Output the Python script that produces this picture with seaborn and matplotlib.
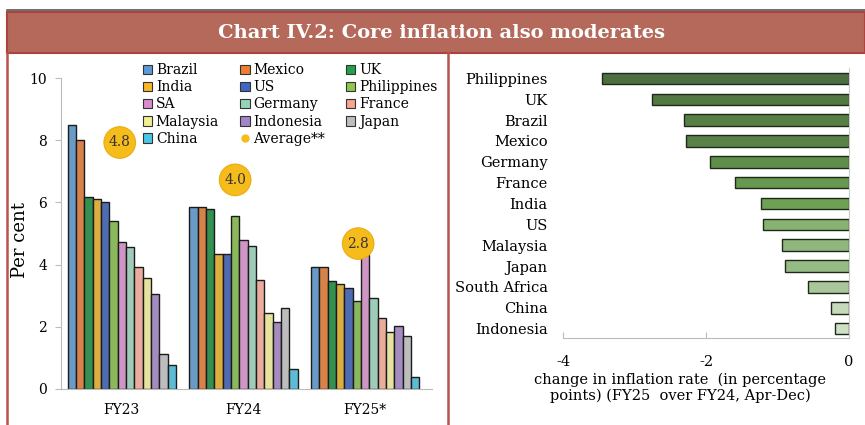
import numpy as np
import pandas as pd
import matplotlib
matplotlib.use("Agg")
import matplotlib.pyplot as plt
import seaborn as sns
from matplotlib.patches import Patch, Rectangle
from matplotlib.lines import Line2D

# ---- data: left panel (core inflation, per cent) ----
countries = ["Brazil", "Mexico", "UK", "India", "US", "Philippines", "SA",
             "Germany", "France", "Malaysia", "Indonesia", "Japan", "China"]
years = ["FY23", "FY24", "FY25*"]
fy23 = [8.5, 8.0, 6.17, 6.1, 6.0, 5.4, 4.73, 4.56, 3.93, 3.58, 3.05, 1.12, 0.77]
fy24 = [5.85, 5.85, 5.8, 4.35, 4.35, 5.56, 4.78, 4.6, 3.52, 2.45, 2.14, 2.62, 0.64]
fy25 = [3.93, 3.93, 3.46, 3.39, 3.26, 2.82, 4.3, 2.91, 2.27, 1.84, 2.01, 1.72, 0.4]
average = [4.8, 4.0, 2.8]

# ---- data: right panel (change FY25 over FY24, pp) ----
change_labels = ["Philippines", "UK", "Brazil", "Mexico", "Germany", "France", "India",
                 "US", "Malaysia", "Japan", "South Africa", "China", "Indonesia"]
change_values = [-3.45, -2.75, -2.31, -2.28, -1.95, -1.59, -1.23,
                 -1.20, -0.94, -0.90, -0.58, -0.25, -0.19]

bar_colors = ["#5B9BD5", "#ED7D31", "#22A04B", "#F6B826", "#3E66C2", "#8CC84B",
              "#D98BCB", "#96D4BA", "#F6A490", "#F1EF91", "#A383C9", "#BDBDBD", "#4CC6E6"]
green_colors = ["#4A7638", "#4E8239", "#52893B", "#548C3D", "#5A9940", "#62A444", "#6AAE48",
                "#83BC68", "#8BC173", "#93C57D", "#A6CF92", "#C3DFB5", "#CCE4C1"]

plt.rcParams["font.family"] = ["DejaVu Serif"]
plt.rcParams["axes.unicode_minus"] = False

fig = plt.figure(figsize=(8.65, 4.25), dpi=100)
W, H = 865, 425


def fx(px):
    return px / W


def fy(py):
    return 1 - py / H


# frame: title band and panel borders
fig.add_artist(Line2D([fx(7), 1], [fy(10), fy(10)], color="#555555", lw=1.2))
fig.add_artist(Rectangle((fx(7), fy(53)), 1 - fx(7), fy(12) - fy(53),
                         facecolor="#B5695B", edgecolor="#A9443E", lw=1.5))
fig.text(0.51, fy(33), "Chart IV.2: Core inflation also moderates", color="white",
         fontsize=14, fontweight="bold", ha="center", va="center")
fig.add_artist(Line2D([fx(7), fx(7)], [0, fy(53)], color="#B9534D", lw=1.8))
fig.add_artist(Line2D([fx(448), fx(448)], [0, fy(53)], color="#B9534D", lw=1.8))

# ---- left panel ----
ax1 = fig.add_axes([fx(61), fy(389), fx(432) - fx(61), fy(78) - fy(389)])
df = pd.DataFrame({
    "year": np.repeat(years, len(countries)),
    "country": countries * len(years),
    "value": fy23 + fy24 + fy25,
})
sns.barplot(data=df, x="year", y="value", hue="country", hue_order=countries,
            palette=bar_colors, width=0.89, edgecolor="#1b1b1b", linewidth=1.0,
            legend=False, ax=ax1)
ax1.set_ylim(0, 10)
ax1.set_xlim(-0.5, 2.55)
ax1.set_yticks(range(0, 11, 2))
ax1.set_xlabel("")
ax1.set_ylabel("Per cent", fontsize=13)
ax1.yaxis.set_label_coords(-0.085, 0.48)
for s in ["top", "right"]:
    ax1.spines[s].set_visible(False)
ax1.spines["left"].set_color("#BBBBBB")
ax1.spines["bottom"].set_color("#BBBBBB")
ax1.tick_params(axis="y", length=4, color="#BBBBBB", labelsize=10, pad=6)
ax1.tick_params(axis="x", length=0, labelsize=10, pad=10)

# average bubbles
bubble_offsets = [(-1.5, 70), (-6, 61), (-5, 42)]
for i, (avg, off) in enumerate(zip(average, bubble_offsets)):
    ax1.annotate(f"{avg:.1f}", xy=(i, avg), xytext=off, textcoords="offset points",
                 ha="center", va="center", fontsize=10, color="#333333",
                 bbox=dict(boxstyle="circle,pad=0.35", facecolor="#F6BC1C",
                           edgecolor="#E8AE10", lw=0.8))

# legend laid out row-wise (Brazil, Mexico, UK / India, US, ...)
handles = [Patch(facecolor=c, edgecolor="#333333", lw=0.8) for c in bar_colors]
handles.append(Line2D([], [], marker="o", ls="", color="#F6BC1C", markersize=5))
labels = countries + ["Average**"]
order = [0, 3, 6, 9, 12, 1, 4, 7, 10, 13, 2, 5, 8, 11]
ax1.legend([handles[k] for k in order], [labels[k] for k in order], ncol=3,
           loc="upper left", bbox_to_anchor=(0.205, 1.065), frameon=False,
           fontsize=10, handlelength=0.7, handleheight=0.7, handletextpad=0.25,
           columnspacing=1.5, labelspacing=0.22, borderaxespad=0)

# ---- right panel ----
ax2 = fig.add_axes([fx(563), fy(338), fx(849) - fx(563), fy(68) - fy(338)])
sns.barplot(x=change_values, y=change_labels, hue=change_labels, palette=green_colors,
            orient="h", width=0.55, edgecolor="#1E2A18", linewidth=1.0,
            legend=False, ax=ax2)
ax2.set_xlim(-4, 0)
ax2.set_ylim(12.45, -0.5)
ax2.set_xticks([-4, -2, 0])
ax2.set_xlabel("change in inflation rate  (in percentage\npoints) (FY25  over FY24, Apr-Dec)",
               fontsize=10.5, linespacing=1.15)
ax2.xaxis.set_label_coords(0.41, -0.128, transform=ax2.transAxes)
ax2.xaxis.label.set_va("top")
ax2.set_ylabel("")
for s in ["top", "left"]:
    ax2.spines[s].set_visible(False)
ax2.spines["right"].set_color("#CCCCCC")
ax2.spines["bottom"].set_color("#BBBBBB")
ax2.tick_params(axis="x", direction="in", length=4, color="#BBBBBB", labelsize=10.5, pad=12)
ax2.tick_params(axis="y", length=0, labelsize=10.5, pad=11)

fig.savefig("out.png", dpi=100, facecolor="white")
